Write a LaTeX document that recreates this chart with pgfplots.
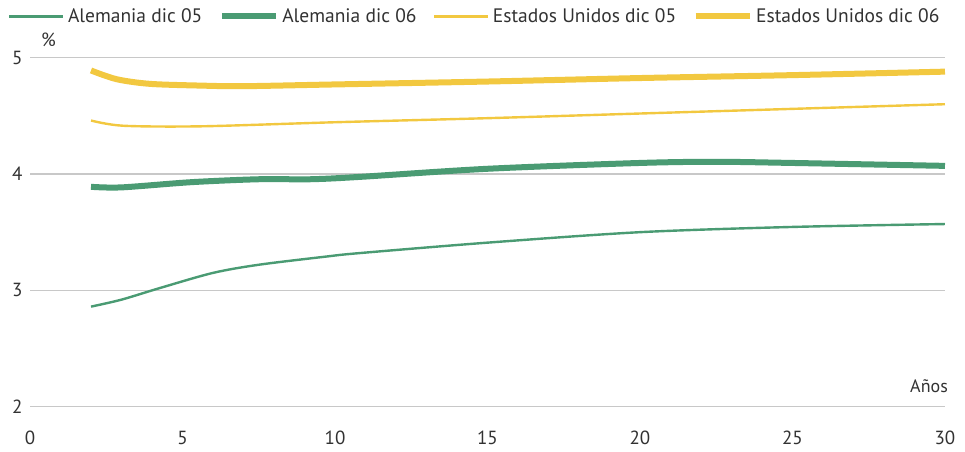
\documentclass[border=0pt]{standalone}
\usepackage{fontspec}
\setmainfont{PT Sans}
\usepackage{pgfplots}
\pgfplotsset{compat=1.18}
\definecolor{gr}{RGB}{74,155,115}
\definecolor{ye}{RGB}{242,200,64}
\definecolor{gridc}{RGB}{200,200,200}
\definecolor{txt}{RGB}{50,50,50}
\begin{document}
\begin{tikzpicture}
\begin{axis}[
  scale only axis, width=915pt, height=349pt,
  xmin=0, xmax=30, ymin=2, ymax=5,
  xtick={0,5,...,30}, ytick={2,3,4,5},
  ymajorgrids, grid style={gridc, line width=1.2pt},
  axis line style={draw=none},
  major tick length=0pt,
  tick label style={font=\fontsize{19}{21}\selectfont, text=txt},
  /pgf/number format/assume math mode=true,
  yticklabel style={xshift=-4pt},
  xticklabel style={yshift=-21pt},
  clip=false,
  legend columns=4,
  legend style={draw=none, fill=none, inner sep=0pt, font=\fontsize{19.5}{21}\selectfont, text=txt,
    at={(axis description cs:-0.0241,1.151)}, anchor=north west,
    nodes={inner sep=3.5pt},
    /tikz/every even column/.append style={column sep=13pt}},
  legend image code/.code={\draw[#1] (0pt,0pt) -- (54pt,0pt);},
]
\addplot[gr, line width=2.4pt, smooth] coordinates {
 (2,2.86) (3,2.92) (4.26,3.02) (6,3.15) (7.5,3.22) (9.7,3.29) (10.8,3.32) (15,3.41) (20,3.50) (25,3.545) (30,3.57)};
\addlegendentry{Alemania dic 05}
\addplot[gr, line width=6pt, smooth] coordinates {
 (2,3.89) (3,3.885) (5.3,3.93) (7.5,3.955) (9.2,3.955) (10.8,3.975) (15,4.045) (20,4.095) (22.5,4.105) (25,4.095) (30,4.07)};
\addlegendentry{Alemania dic 06}
\addplot[ye, line width=2.4pt, smooth] coordinates {
 (2,4.46) (3.05,4.415) (5.6,4.41) (10,4.445) (15,4.48) (20,4.52) (25,4.56) (30,4.60)};
\addlegendentry{Estados Unidos dic 05}
\addplot[ye, line width=6pt, smooth] coordinates {
 (2,4.89) (2.84,4.815) (3.93,4.775) (5.6,4.76) (7,4.755) (10,4.77) (15,4.795) (20,4.825) (25,4.85) (30,4.88)};
\addlegendentry{Estados Unidos dic 06}
\node[text=txt, font=\fontsize{19}{21}\selectfont, anchor=base west] at (axis cs:0.25,5.092) {\%};
\node[text=txt, font=\fontsize{18}{20}\selectfont, anchor=base east, inner sep=0pt] at (axis cs:30.1,2.118) {Años};
\path (rel axis cs:-0.0328,-0.1298) rectangle (rel axis cs:1.0219,1.1653);
\end{axis}
\end{tikzpicture}
\end{document}
